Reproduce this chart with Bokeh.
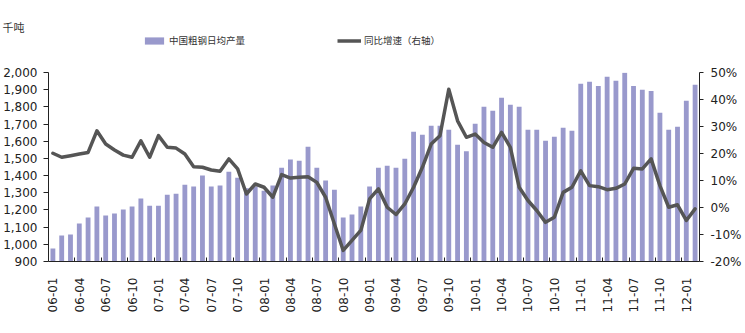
from bokeh.plotting import figure
from bokeh.layouts import column
from bokeh.models import (Range1d, LinearAxis, FixedTicker, NumeralTickFormatter,
                          PrintfTickFormatter, Legend, LegendItem, ColumnDataSource)
from bokeh.embed import file_html
from bokeh.resources import INLINE

# months 2006-01 .. 2012-02
months = [f"{y:02d}-{m:02d}" for y in range(6, 13) for m in range(1, 13)][:74]

# China crude steel daily output (thousand tonnes)
output = [976, 1051, 1057, 1121, 1156, 1220, 1167, 1179, 1202, 1220, 1266, 1225,
          1225, 1289, 1295, 1347, 1336, 1400, 1336, 1342, 1423, 1388, 1326, 1336,
          1312, 1342, 1446, 1493, 1487, 1568, 1446, 1371, 1318, 1156, 1173, 1220,
          1336, 1446, 1458, 1446, 1498, 1655, 1638, 1690, 1690, 1667, 1580, 1541,
          1702, 1800, 1777, 1853, 1812, 1800, 1667, 1667, 1603, 1626, 1678, 1661,
          1934, 1946, 1922, 1975, 1952, 1998, 1922, 1899, 1893, 1766, 1667, 1684,
          1835, 1928]

# YoY growth (%), right axis
yoy = [20.1, 18.6, 19.2, 19.8, 20.4, 28.4, 23.5, 21.3, 19.4, 18.6, 24.7, 18.6,
       26.6, 22.3, 22.0, 19.8, 15.1, 14.9, 13.9, 13.4, 18.0, 14.3, 5.0, 8.7,
       7.5, 3.8, 12.2, 10.9, 11.2, 11.4, 9.3, 3.8, -6.1, -15.9, -12.2, -8.5,
       3.2, 6.9, 0.1, -2.6, 1.3, 7.5, 14.9, 23.5, 26.6, 43.8, 32.1, 26.0,
       27.2, 24.1, 22.3, 27.8, 22.3, 7.5, 2.6, -1.1, -5.5, -3.6, 5.6, 7.5,
       13.6, 8.1, 7.7, 6.6, 7.1, 8.7, 14.5, 14.3, 18.0, 8.1, 0.1, 1.0,
       -4.8, -0.5]

series_names = ["中国粗钢日均产量", "同比增速（右轴）"]
unit_label = "千吨"

tick_idx = list(range(0, 73, 3))
tick_labels = [months[i] for i in tick_idx]

left_ticks = list(range(900, 2001, 100))
right_ticks = list(range(-20, 51, 10))

BAR_C = "#9999cc"
LINE_C = "#555555"
AX = "#222222"
FONT = "DejaVu Sans"
CJK = "Noto Sans CJK SC"

W, H_TOP, H_ALL = 745, 60, 333
NAN = float("nan")

# ---------------- header (unit + legend) ----------------
hdr = figure(width=W, height=H_TOP, output_backend="svg", toolbar_location=None,
             x_range=Range1d(0, 1), y_range=Range1d(0, 1),
             x_axis_type=None, y_axis_type=None,
             min_border_left=48, min_border_right=46, min_border_top=34, min_border_bottom=0,
             title=unit_label)
hdr.outline_line_color = None
hdr.grid.visible = False
hdr.title.align = "left"
hdr.title.offset = -46
hdr.title.text_font = CJK
hdr.title.text_font_size = "11px"
hdr.title.text_font_style = "normal"
hdr.title.text_color = "#333333"
hdr.title.standoff = 0

# legend-only glyphs (no visible data)
leg_bar = hdr.vbar(x=[NAN], top=[NAN], bottom=0, width=1, fill_color=BAR_C, line_color=None)
leg_line = hdr.line(x=[NAN], y=[NAN], line_width=3.5, line_color=LINE_C)
legend = Legend(items=[LegendItem(label=series_names[0], renderers=[leg_bar]),
                       LegendItem(label=series_names[1], renderers=[leg_line])],
                orientation="horizontal", location=(94, 13),
                glyph_width=24, glyph_height=9, label_height=9, label_width=10,
                label_standoff=3, spacing=92, padding=0, margin=0,
                border_line_color=None, background_fill_alpha=0,
                label_text_font=CJK, label_text_font_size="9.5px", label_text_color="#333333")
hdr.add_layout(legend)

# ---------------- main chart ----------------
src = ColumnDataSource(dict(x=list(range(len(output))), v=output, g=yoy))

p = figure(width=W, height=H_ALL - H_TOP, output_backend="svg", toolbar_location=None,
           x_range=Range1d(-0.5, 73.5), y_range=Range1d(900, 2000),
           min_border_left=48, min_border_right=46, min_border_top=72 - H_TOP,
           min_border_bottom=72)
p.outline_line_color = None
p.grid.visible = False
p.extra_y_ranges = {"pct": Range1d(-20, 50)}

p.vbar(x="x", top="v", bottom=900, width=0.55, source=src,
       fill_color=BAR_C, line_color=None)
p.line(x="x", y="g", source=src, y_range_name="pct",
       line_width=3.5, line_color=LINE_C, line_join="round", line_cap="round")

# x axis
xa = p.xaxis[0]
xa.ticker = FixedTicker(ticks=tick_idx, minor_ticks=[i - 0.5 for i in range(3, 73, 3)])
xa.major_label_overrides = {i: lab for i, lab in zip(tick_idx, tick_labels)}
xa.major_label_orientation = 1.5707963
xa.major_tick_line_color = None
xa.minor_tick_in = 4
xa.minor_tick_out = 0
xa.minor_tick_line_color = AX
xa.axis_line_color = AX
xa.major_label_standoff = 10
xa.major_label_text_font = FONT
xa.major_label_text_font_size = "12px"
xa.major_label_text_color = AX

# left y axis
ya = p.yaxis[0]
ya.ticker = FixedTicker(ticks=left_ticks)
ya.formatter = NumeralTickFormatter(format="0,0")
ya.minor_tick_line_color = None
ya.major_tick_in = 0
ya.major_tick_out = 5
ya.major_tick_line_color = AX
ya.axis_line_color = AX
ya.major_label_standoff = 6
ya.major_label_text_font = FONT
ya.major_label_text_font_size = "12px"
ya.major_label_text_color = AX

# right y axis
ra = LinearAxis(y_range_name="pct", ticker=FixedTicker(ticks=right_ticks),
                formatter=PrintfTickFormatter(format="%d%%"))
ra.minor_tick_line_color = None
ra.major_tick_in = 0
ra.major_tick_out = 4
ra.major_tick_line_color = AX
ra.axis_line_color = AX
ra.major_label_standoff = 7
ra.major_label_text_font = FONT
ra.major_label_text_font_size = "12px"
ra.major_label_text_color = AX
p.add_layout(ra, "right")

layout = column(hdr, p, spacing=0)
open("out.html", "w").write(file_html(layout, INLINE))
